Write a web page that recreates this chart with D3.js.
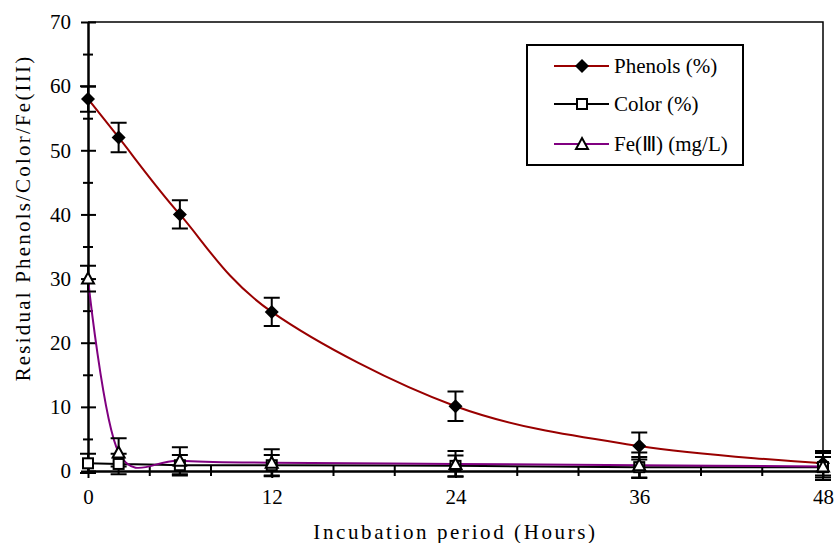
<!DOCTYPE html>
<html>
<head>
<meta charset="utf-8">
<script src="https://cdn.jsdelivr.net/npm/d3@7"></script>
<style>
  body { margin: 0; background: #fff; }
  svg { display: block; }
  text { font-family: "Liberation Serif", "Times New Roman", serif; }
</style>
</head>
<body>
<svg id="chart" width="839" height="543"></svg>
<script>
const hours = [0, 2, 6, 12, 24, 36, 48]
const phenols = [58, 52, 40, 24.8, 10.1, 3.9, 1.2]
const phenolsErr = [2, 2.3, 2.2, 2.2, 2.3, 2.1, 1.9]
const color = [1.2, 1.1, 0.9, 0.9, 0.8, 0.6, 0.6]
const colorErr = [1.5, 1.6, 1.6, 1.6, 1.6, 1.6, 1.6]
const fe = [30, 2.9, 1.6, 1.3, 1.1, 0.9, 0.7]
const feErr = [2, 2.2, 2.1, 2.1, 2, 2, 2.1]

const xTicks = d3.range(0, 49, 4)
const xLabels = [0, 12, 24, 36, 48]
const yTicks = d3.range(0, 71, 5)
const yLabels = [0, 10, 20, 30, 40, 50, 60, 70]

const series = [
  { name: 'Phenols (%)', values: phenols, err: phenolsErr, stroke: '#990000', shape: 'diamond' },
  { name: 'Color (%)', values: color, err: colorErr, stroke: '#000000', shape: 'square' },
  { name: 'Fe(Ⅲ) (mg/L)', values: fe, err: feErr, stroke: '#800080', shape: 'triangle' },
]

const svg = d3.select('#chart')
const PL = 88, PR = 823, PT = 22, PB = 471
const x = d3.scaleLinear().domain([0, 48]).range([PL, PR])
const y = d3.scaleLinear().domain([0, 70]).range([PB, PT])
const FONT = 21
const SERIF = '"Liberation Serif", "Times New Roman", serif'

// frame (top + right)
svg.append('path')
  .attr('d', `M${PL},${PT}H${PR}V${PB}`)
  .attr('fill', 'none').attr('stroke', '#000').attr('stroke-width', 1.5)

// y axis
const gy = svg.append('g').attr('transform', `translate(${PL},0)`)
  .call(d3.axisLeft(y).tickValues(yTicks).tickSize(0).tickFormat(d => yLabels.includes(d) ? d : ''))
  .attr('font-family', SERIF)
gy.select('.domain').attr('stroke-width', 2.5)
gy.selectAll('.tick line')
  .attr('x1', d => yLabels.includes(d) ? -7 : -5)
  .attr('x2', d => yLabels.includes(d) ? 8 : 5)
  .attr('stroke-width', 2)
gy.selectAll('.tick text').attr('x', -17).style('font-size', FONT + 'px')

// x axis
const gx = svg.append('g').attr('transform', `translate(0,${PB})`)
  .call(d3.axisBottom(x).tickValues(xTicks).tickSize(0).tickFormat(d => xLabels.includes(d) ? d : ''))
  .attr('font-family', SERIF)
gx.select('.domain').attr('stroke-width', 2.5)
gx.selectAll('.tick line')
  .attr('y1', d => xLabels.includes(d) ? -8 : -5)
  .attr('y2', d => xLabels.includes(d) ? 7 : 5)
  .attr('stroke-width', 2)
gx.selectAll('.tick text').attr('y', 18).style('font-size', FONT + 'px')

// axis titles
svg.append('text')
  .attr('transform', `translate(30,218) rotate(-90)`)
  .attr('text-anchor', 'middle')
  .attr('font-family', SERIF)
  .style('font-size', FONT + 'px')
  .style('letter-spacing', '2.2px')
  .text('Residual Phenols/Color/Fe(III)')
svg.append('text')
  .attr('x', (PL + PR) / 2).attr('y', 539)
  .attr('text-anchor', 'middle')
  .attr('font-family', SERIF)
  .style('font-size', FONT + 'px')
  .style('letter-spacing', '2.6px')
  .text('Incubation period (Hours)')

function marker(g, shape) {
  if (shape === 'diamond') {
    g.append('path').attr('d', 'M0,-7L7,0L0,7L-7,0Z').attr('fill', '#000')
  } else if (shape === 'square') {
    g.append('rect').attr('x', -5).attr('y', -5).attr('width', 10).attr('height', 10)
      .attr('fill', '#fff').attr('stroke', '#000').attr('stroke-width', 2)
  } else {
    g.append('path').attr('d', 'M0,-6L6,5L-6,5Z')
      .attr('fill', '#fff').attr('stroke', '#000').attr('stroke-width', 2)
  }
}

// smoothed lines (uniform Catmull-Rom, like a spreadsheet's smoothed line)
const line = d3.line().x((d, i) => x(hours[i])).y(d => y(d)).curve(d3.curveCardinal.tension(0))

series.forEach(s => {
  svg.append('path').datum(s.values).attr('d', line)
    .attr('fill', 'none').attr('stroke', s.stroke).attr('stroke-width', 2)
})

series.forEach(s => {
  const g = svg.append('g')
  s.values.forEach((v, i) => {
    const cx = x(hours[i])
    const y1 = y(v + s.err[i]), y2 = y(v - s.err[i])
    g.append('path')
      .attr('d', `M${cx},${y1}V${y2}M${cx - 8},${y1}H${cx + 8}M${cx - 8},${y2}H${cx + 8}`)
      .attr('stroke', '#000').attr('stroke-width', 2).attr('fill', 'none')
  })
})

series.forEach(s => {
  s.values.forEach((v, i) => {
    const g = svg.append('g').attr('transform', `translate(${x(hours[i])},${y(v)})`)
    marker(g, s.shape)
  })
})

// legend
const lg = svg.append('g')
lg.append('rect').attr('x', 527).attr('y', 45).attr('width', 216).attr('height', 120)
  .attr('fill', '#fff').attr('stroke', '#000').attr('stroke-width', 2)
const legendY = [66, 104, 144]
series.forEach((s, i) => {
  const ly = legendY[i]
  lg.append('line').attr('x1', 554).attr('x2', 609).attr('y1', ly).attr('y2', ly)
    .attr('stroke', s.stroke).attr('stroke-width', 2)
  marker(lg.append('g').attr('transform', `translate(582,${ly})`), s.shape)
  lg.append('text').attr('x', 614).attr('y', ly + 7)
    .attr('font-family', SERIF)
    .style('font-size', FONT + 'px').text(s.name)
})
</script>
</body>
</html>
